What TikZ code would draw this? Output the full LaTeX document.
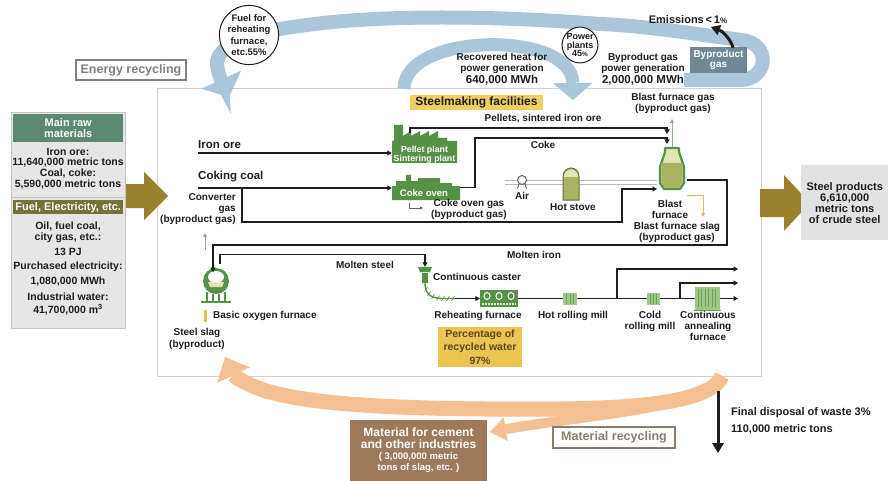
\documentclass[tikz,border=0pt]{standalone}
\usepackage{fontspec}
\setmainfont{Liberation Sans}
\usetikzlibrary{arrows.meta,calc}

\definecolor{bandBlue}{RGB}{170,198,216}
\definecolor{bandOrange}{RGB}{244,192,145}
\definecolor{goldArrow}{RGB}{155,128,46}
\definecolor{plantGreen}{RGB}{86,146,70}
\definecolor{millGreen}{RGB}{158,200,136}
\definecolor{millDark}{RGB}{110,160,90}
\definecolor{oliveFill}{RGB}{170,178,100}
\definecolor{stoveEdge}{RGB}{100,112,60}
\definecolor{paleFill}{RGB}{226,228,184}
\definecolor{headTeal}{RGB}{92,138,112}
\definecolor{headOlive}{RGB}{118,112,58}
\definecolor{panelGray}{RGB}{230,230,230}
\definecolor{panelEdge}{RGB}{196,196,196}
\definecolor{boxGray}{RGB}{226,226,226}
\definecolor{slateBox}{RGB}{112,136,150}
\definecolor{brownBox}{RGB}{158,121,90}
\definecolor{labelYellow}{RGB}{240,206,98}
\definecolor{waterYellow}{RGB}{236,196,82}
\definecolor{waterText}{RGB}{92,72,28}
\definecolor{ink}{RGB}{30,30,30}
\definecolor{greyText}{RGB}{128,128,128}
\definecolor{recycText}{RGB}{140,124,108}
\definecolor{frameGray}{RGB}{208,208,208}
\definecolor{slagTan}{RGB}{226,182,110}
\definecolor{slagYellow}{RGB}{232,192,74}
\definecolor{gasGreen}{RGB}{150,172,140}
\definecolor{airGray}{RGB}{185,185,185}

\newcommand{\fsz}[2]{\fontsize{#1}{#2}\selectfont}

\tikzset{
  txt/.style={inner sep=0pt, align=center, text=ink, font=\bfseries\fsz{10}{11}},
  flow/.style={draw=ink, line width=1.1pt, -{Triangle[width=5pt,length=4.5pt]}},
  plainline/.style={draw=ink, line width=1.1pt},
  iconbox/.style={inner sep=0pt, draw=none},
  blueband/.style={draw=bandBlue, line width=14pt},
  orangeband/.style={draw=bandOrange, line width=15pt},
  airln/.style={draw=airGray, line width=0.8pt},
  gasarrow/.style={draw=gasGreen, line width=1pt, -{Triangle[width=4pt,length=4pt]}},
  slagln/.style={draw=slagTan, line width=1pt, -{Triangle[width=4pt,length=4pt]}},
  panelline/.style={txt, font=\bfseries\fsz{10.5}{11}},
}

\begin{document}
\begin{tikzpicture}[x=1pt,y=-1pt]
\useasboundingbox (0,0) rectangle (893,481);
\fill[white] (0,0) rectangle (893,481);

% ---------- facility frame ----------
\node[draw=frameGray, line width=0.8pt, fill=white, minimum width=604pt, minimum height=288pt,
      inner sep=0pt, anchor=north west] (plant) at (157,88) {};

% ---------- energy recycling bands ----------
\draw[blueband, -{Triangle[width=44pt,length=19pt,line width=0pt]}]
  (684,80) -- (740,80)
  .. controls (768,80) and (772,44) .. (742,40)
  .. controls (700,35) and (650,26) .. (600,24)
  .. controls (500,16) and (380,14) .. (300,26)
  .. controls (250,32) and (216,46) .. (217,64)
  .. controls (218,76) and (224,86) .. (229,97);
\draw[blueband, line width=13pt, -{Triangle[width=40pt,length=17pt,line width=0pt]}]
  (404,89) .. controls (404,32) and (572,30) .. (573,100);

% ---------- material recycling bands ----------
\draw[orangeband, -{Triangle[width=36pt,length=20pt,line width=0pt]}]
  (722,376) .. controls (712,400) and (650,408) .. (560,409)
  .. controls (420,410) and (320,406) .. (270,392)
  .. controls (248,386) and (234,376) .. (225,357);
\draw[orangeband, line width=10pt, -{Triangle[width=24pt,length=16pt,line width=0pt]}]
  (712,386) .. controls (680,410) and (580,416) .. (490,432);

% ---------- circles and boxes on the energy loop ----------
\node[circle, draw=ink, line width=1pt, fill=white, minimum size=56pt, inner sep=0pt,
      align=center, text=ink, font=\bfseries\fsz{9.5}{11.3}] (fuelC) at (249,35)
      {Fuel for\\reheating\\furnace,\\etc.55\%};
\node[circle, draw=ink, line width=1pt, fill=white, minimum size=35pt, inner sep=0pt,
      align=center, text=ink, font=\bfseries\fsz{9}{8.6}] (ppC) at (580,45)
      {Power\\plants\\45{\fsz{6.5}{7}\%}};
\node[fill=slateBox, text=white, minimum width=57pt, minimum height=26pt, inner sep=0pt,
      align=center, font=\bfseries\fsz{10}{10.5}] (bpbox) at (718.5,60) {Byproduct\\gas};
\node[txt, font=\bfseries\fsz{11}{12}] (emis) at (688,20) {Emissions{\,}<{\,}1{\fsz{8}{9}\%}};
\coordinate (emisTip) at (711,27);
\draw[ink, line width=3pt, -{Triangle[width=11pt,length=9pt,line width=0pt]}]
  ($(bpbox.north east)+(-14,1)$) .. controls (730,38) and (722,31) .. (emisTip);

\node[draw=greyText, line width=1.3pt, fill=white, text=greyText, minimum width=110pt,
      minimum height=20pt, inner sep=0pt, font=\bfseries\fsz{12.5}{13}] (enrec) at (131,70) {Energy recycling};

\node[txt] (rechT) at (502,63) {Recovered heat for\\power generation};
\node[txt, font=\bfseries\fsz{11.5}{12}] (rechV) at (502,80) {640,000 MWh};
\node[txt] (bpgT) at (643,63) {Byproduct gas\\power generation};
\node[txt, font=\bfseries\fsz{11.5}{12}] (bpgV) at (643,80) {2,000,000 MWh};

% ---------- input and output arrows ----------
\fill[goldArrow] (125,184) -- (144,184) -- (144,172) -- (168,196) -- (144,220) -- (144,208) -- (125,208) -- cycle;
\fill[goldArrow] (760,189) -- (784,189) -- (784,175) -- (810,203) -- (784,231) -- (784,217) -- (760,217) -- cycle;

\node[fill=boxGray, minimum width=87pt, minimum height=75pt, inner sep=0pt, anchor=north west,
      align=center, text=ink, font=\bfseries\fsz{11}{11}] (steelP) at (801,165)
      {Steel products\\6,610,000\\metric tons\\of crude steel};

% ---------- raw material panel ----------
\node[fill=panelGray, draw=panelEdge, line width=0.8pt, minimum width=114pt, minimum height=216pt,
      anchor=north west, inner sep=0pt] (panel) at (11,112) {};
\node[fill=headTeal, text=white, minimum width=110pt, minimum height=28pt, anchor=north west,
      inner sep=0pt, align=center, font=\bfseries\fsz{11}{11}] (hdrRaw) at (13,113.5) {Main raw\\materials};
\node[panelline] (raw1) at (68,152) {Iron ore:};
\node[panelline] (raw2) at (68,163) {11,640,000 metric tons};
\node[panelline] (raw3) at (68,174) {Coal, coke:};
\node[panelline] (raw4) at (68,185) {5,590,000 metric tons};
\draw[panelEdge, line width=0.8pt] (panel.west |- 0,197) -- (panel.east |- 0,197);
\node[fill=headOlive, text=white, minimum width=110pt, minimum height=14pt, anchor=north west,
      inner sep=0pt, font=\bfseries\fsz{11}{11}] (hdrFuel) at (13,200) {Fuel, Electricity, etc.};
\node[panelline] (fuel1) at (68,227) {Oil, fuel coal,};
\node[panelline] (fuel2) at (68,238) {city gas, etc.:};
\node[panelline] (fuel3) at (68,252) {13 PJ};
\node[panelline] (fuel4) at (68,267) {Purchased electricity:};
\node[panelline] (fuel5) at (68,282) {1,080,000 MWh};
\node[panelline] (fuel6) at (68,297) {Industrial water:};
\node[panelline] (fuel7) at (68,310) {41,700,000 m\textsuperscript{3}};

% ---------- final disposal, slag products ----------
\coordinate (dispTop) at (718,391);
\coordinate (dispEnd) at (718,453);
\draw[ink, line width=3pt, -{Triangle[width=12pt,length=10pt,line width=0pt]}] (dispTop) -- (dispEnd);
\node[txt, anchor=west, align=left, font=\bfseries\fsz{11}{17.5}] (disp) at (731,421)
      {Final disposal of waste 3\%\\110,000 metric tons};
\node[fill=brownBox, minimum width=137pt, minimum height=61pt, inner sep=0pt, anchor=north west] (cement) at (350,420) {};
\node[text=white, inner sep=0pt, align=center, font=\bfseries\fsz{12}{12.3}] (cementT) at (418.5,438) {Material for cement\\and other industries};
\node[text=white, inner sep=0pt, align=center, font=\bfseries\fsz{9.5}{11}] (cementV) at (418.5,463) {( 3,000,000 metric\\tons of slag, etc. )};
\node[draw=recycText, line width=1.3pt, fill=white, text=recycText, minimum width=122pt,
      minimum height=21pt, inner sep=0pt, font=\bfseries\fsz{12.5}{13}] (matrec) at (614,437.5) {Material recycling};

% ---------- facility heading ----------
\node[fill=labelYellow, minimum width=133pt, minimum height=15pt, inner sep=0pt, text=ink,
      font=\bfseries\fsz{12}{13}] (smf) at (476.5,102.5) {Steelmaking facilities};
\node[txt] (bfgas) at (673,103.5) {Blast furnace gas\\(byproduct gas)};

% ---------- plant icons ----------
\node[iconbox, minimum width=65pt, minimum height=38pt] (pellet) at (424.5,144) {};
\fill[plantGreen] (392,163) -- (392,141) -- (394,141) -- (394,125) -- (403,125) -- (403,136)
  -- (411,131) -- (411,136) -- (420,131) -- (420,136) -- (429,131) -- (429,136) -- (438,131)
  -- (438,138) -- (447,138) -- (447,141) -- (457,141) -- (457,163) -- cycle;
\node[text=white, inner sep=0pt, align=center, font=\bfseries\fsz{8.8}{9}] (pelletT) at (424.5,154.5) {Pellet plant\\Sintering plant};

\node[iconbox, minimum width=68pt, minimum height=25pt] (coke) at (426,187.5) {};
\fill[plantGreen] (392,200) -- (392,186) -- (396,186) -- (396,181) -- (406,181) -- (406,175)
  -- (411,175) -- (411,181) -- (418,181) -- (418,178) -- (440,178) -- (440,183) -- (452,183)
  -- (452,186) -- (460,186) -- (460,200) -- cycle;
\node[text=white, inner sep=0pt, font=\bfseries\fsz{9.5}{10}] (cokeT) at (424,193) {Coke oven};

% air line, air blower, hot stove
\coordinate (airStart) at (505,180);
\coordinate (airStart2) at (505,184);
\node[iconbox, minimum width=30pt, minimum height=43pt] (bf) at (672,168.5) {};
\draw[airln] (airStart) -- (airStart -| bf.west);
\draw[airln] (airStart2) -- (airStart2 -| bf.west);
\draw[gray!70!black, line width=0.9pt] (519,184) -- (517.5,188.5) (525,184) -- (526.5,188.5);
\node[circle, draw=gray!70!black, fill=white, line width=0.9pt, minimum size=9pt, inner sep=0pt] (air) at (522,180) {};
\node[iconbox, minimum width=18pt, minimum height=33pt] (stove) at (571,183.5) {};
\filldraw[fill=oliveFill, draw=stoveEdge, line width=1pt] (563,200) -- (563,177)
  .. controls (563,165) and (579,165) .. (579,177) -- (579,200) -- cycle;
\fill[paleFill] (564,177) .. controls (564,167.5) and (578,167.5) .. (578,177) -- cycle;

% blast furnace
\filldraw[fill=paleFill, draw=plantGreen, line width=2.2pt, line join=round]
  (665,148) -- (679,148) -- (679,152) -- (684,167) -- (684,183) -- (680,189) -- (664,189)
  -- (660,183) -- (660,167) -- (665,152) -- cycle;
\fill[oliveFill] (661.3,163) -- (682.7,163) -- (682.7,182.5) -- (679.3,187.8) -- (664.7,187.8)
  -- (661.3,182.5) -- cycle;

% basic oxygen furnace
\node[iconbox, minimum width=34pt, minimum height=34pt] (bof) at (215,285) {};
\fill[plantGreen] (216,281) circle[radius=13pt];
\fill[white] (216,277) ellipse[x radius=8pt, y radius=6pt];
\fill[paleFill] (208,282) -- (224,282) -- (222,287) -- (210,287) -- cycle;
\draw[plantGreen, line width=1.6pt] (207,292) -- (207,302) (225,292) -- (225,302)
  (213,294) -- (213,302) (219,294) -- (219,302) (201,302) -- (231,302);
\fill[slagYellow] (204,310) rectangle (207,322);

% continuous caster
\node[iconbox, minimum width=14pt, minimum height=16pt] (caster) at (425,275) {};
\fill[plantGreen] (418,267) -- (432,267) -- (430,272) -- (420,272) -- cycle;
\fill[plantGreen] (422,273) rectangle (428,283);

% reheating furnace
\node[iconbox, minimum width=38pt, minimum height=17pt] (rehf) at (499,298.5) {};
\fill[plantGreen] (480,290) rectangle (518,307);
\foreach \cx in {487,499,511} {
  \draw[white, line width=1pt] (\cx,296) ellipse[x radius=3pt, y radius=3.5pt];
}
\draw[white!80!plantGreen, line width=1.2pt, dash pattern=on 1.5pt off 1.5pt] (482,304) -- (516,304);

% rolling mills and annealing furnace
\node[iconbox, minimum width=14pt, minimum height=13pt] (hrm) at (570,298.5) {};
\node[iconbox, minimum width=13pt, minimum height=13pt] (crm) at (653.5,298.5) {};
\node[iconbox, minimum width=25pt, minimum height=23pt] (caf) at (707.5,298.5) {};

% ---------- process flows ----------
\coordinate (ironStart) at (198,153);
\coordinate (coalStart) at (198,188);
\coordinate (coalBr) at (242,188);
\coordinate (pciBend) at (622,222);
\coordinate (bfTuyere) at (657,189);
\coordinate (pelOut) at (410,133);
\coordinate (bfIn1) at (667,134);
\coordinate (cokeBend) at (475,187.5);
\coordinate (bfIn2) at (667,144);
\draw[flow] (ironStart) -- (ironStart -| pellet.west);
\draw[flow] (coalStart) -- (coalStart -| coke.west);
\draw[flow] (pelOut) |- ($(bfIn1)+(0,-6)$) -- (bfIn1);
\draw[flow] (coke.east |- cokeBend) -- (cokeBend) |- ($(bfIn2)+(0,-6)$) -- (bfIn2);
\draw[flow] (coalBr) |- (pciBend) |- (bfTuyere);

\coordinate (cogStart) at (409,203);
\coordinate (cogEnd) at (423,208);
\draw[gray!80!black, line width=0.6pt, -{Triangle[width=3pt,length=3pt]}] (cogStart) |- (cogEnd);

\draw[gasarrow] (bf.north) -- ++(0,-28);
\coordinate (slagStart) at (687,195);
\coordinate (slagEnd) at (703,217);
\draw[slagln] (slagStart) -| (slagEnd);

\coordinate (ironOut) at (687,180);
\coordinate (miBend) at (727,245);
\coordinate (bofIn) at (213,272);
\draw[flow] (ironOut) -| (miBend) -| (bofIn);
\coordinate (bofOut) at (220,264);
\draw[flow] (bofOut) |- ($(caster.north)+(0,-12)$) -- (caster.north);
\coordinate (convOut) at (205,250);
\draw[gasarrow] (convOut) -- ++(0,-17);

\coordinate (strandEnd) at (455,298.5);
\draw[plantGreen, line width=1.4pt] (caster.south) .. controls (425,293) and (430,298.5) .. (442,298.5) -- (strandEnd);
\foreach \hx/\hy in {426/289, 429/293.5, 433/296.5, 438/298.2, 443/298.5, 448/298.5, 453/298.5} {
  \draw[plantGreen, line width=0.6pt] (\hx-1.5,\hy+2.5) -- (\hx+1.5,\hy-2.5);
}
\draw[flow] (strandEnd) -- (rehf.west);
\draw[plainline] (rehf.east) -- (hrm.west);
\draw[plainline] (hrm.east) -- (crm.west);
\draw[plainline] (crm.east) -- (caf.west);
\coordinate (prodEnd) at (738,298.5);
\draw[flow] (caf.east) -- (prodEnd);
\coordinate (br1) at (617,298.5);
\coordinate (br1End) at (738,269);
\draw[flow] (br1) |- (br1End);
\coordinate (br2) at (680,298.5);
\coordinate (br2End) at (738,283);
\draw[flow] (br2) |- (br2End);

% mill glyphs on top of the line
\fill[millGreen] (563,292.5) rectangle (577,304.5);
\draw[millDark, line width=0.7pt] (566.5,293.5) -- (566.5,303.5) (570,293.5) -- (570,303.5) (573.5,293.5) -- (573.5,303.5);
\fill[millGreen] (647,292.5) rectangle (660,304.5);
\draw[millDark, line width=0.7pt] (650.5,293.5) -- (650.5,303.5) (653.5,293.5) -- (653.5,303.5) (656.5,293.5) -- (656.5,303.5);
\fill[millGreen] (695,287) rectangle (720,310);
\foreach \sx in {698,701.5,705,708.5,712,715.5} {
  \draw[millDark, line width=0.7pt] (\sx,289) -- (\sx,307);
}
\draw[millDark, line width=1pt] (694,310) -- (721,310);

% ---------- facility labels ----------
\node[txt, anchor=west, font=\bfseries\fsz{11.5}{12}] (ironT) at (198,145) {Iron ore};
\node[txt, anchor=west, font=\bfseries\fsz{11.5}{12}] (coalT) at (198,177) {Coking coal};
\node[txt] (pelletsT) at (543,119) {Pellets, sintered iron ore};
\node[txt] (cokeLbl) at (543,145) {Coke};
\node[txt] (cogT) at (469,209.5) {Coke oven gas\\(byproduct gas)};
\node[txt, align=right, anchor=east] (convT) at (236,209) {Converter\\gas\\(byproduct gas)};
\node[txt] (airT) at (522,196) {Air};
\node[txt] (stoveT) at (573,207) {Hot stove};
\node[txt] (bfT) at (670,209.5) {Blast\\furnace};
\node[txt] (slagT) at (677,232) {Blast furnace slag\\(byproduct gas)};
\node[txt] (miT) at (534,255) {Molten iron};
\node[txt] (msT) at (365,265) {Molten steel};
\node[txt, anchor=west] (casterT) at (433,277) {Continuous caster};
\node[txt] (rehfT) at (478,316) {Reheating furnace};
\node[txt] (hrmT) at (573,316) {Hot rolling mill};
\node[txt, anchor=north] (crmT) at (650,311.5) {Cold\\rolling mill};
\node[txt, anchor=north] (cafT) at (708,311.5) {Continuous\\annealing\\furnace};
\node[txt, anchor=west] (bofT) at (213,316) {Basic oxygen furnace};
\node[txt, font=\bfseries\fsz{10}{12}] (slagBT) at (197,339) {Steel slag\\(byproduct)};
\node[fill=waterYellow, text=waterText, minimum width=84pt, minimum height=40pt, inner sep=0pt,
      align=center, font=\bfseries\fsz{10.5}{13.5}] (water) at (480,347) {Percentage of\\recycled water\\97\%};

\end{tikzpicture}
\end{document}
